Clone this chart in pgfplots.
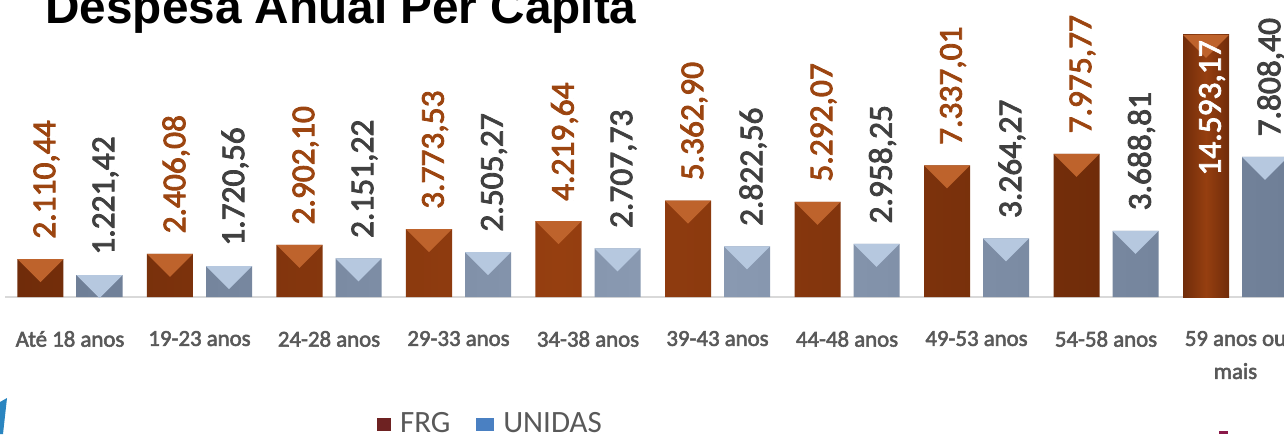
\documentclass[border=0pt]{standalone}
\usepackage{pgfplots}
\pgfplotsset{compat=1.18}
\usepackage{pgfplotstable}
\usepackage{fontspec}
\setmainfont{Carlito}[AutoFakeBold=2.5, BoldFeatures={FakeBold=1.3}]
\newfontfamily\titlefont{Liberation Sans}
\definecolor{frgmain}{HTML}{963F10}
\definecolor{frgdark}{HTML}{702C0A}
\definecolor{frgtop}{HTML}{BE632C}
\definecolor{unimain}{HTML}{8B9BB3}
\definecolor{unidark}{HTML}{6F7F97}
\definecolor{unitop}{HTML}{B6C8DF}
\definecolor{frglabel}{HTML}{9C4510}
\definecolor{unilabel}{HTML}{404040}
\definecolor{catgray}{HTML}{595959}
\definecolor{frgleg}{HTML}{6E2222}
\definecolor{unileg}{HTML}{4A80C2}
\definecolor{decoblue}{HTML}{2A85C0}
\definecolor{decored}{HTML}{8B1A4A}

\pgfplotstableread{
x y label
0 2110.44 2.110,44
1 2406.08 2.406,08
2 2902.10 2.902,10
3 3773.53 3.773,53
4 4219.64 4.219,64
5 5362.90 5.362,90
6 5292.07 5.292,07
7 7337.01 7.337,01
8 7975.77 7.975,77
}\frgdata
\pgfplotstableread{
x y label
9 14593.17 14.593,17
}\frglast
\pgfplotstableread{
x y label
0 1221.42 1.221,42
1 1720.56 1.720,56
2 2151.22 2.151,22
3 2505.27 2.505,27
4 2707.73 2.707,73
5 2822.56 2.822,56
6 2958.25 2.958,25
7 3264.27 3.264,27
8 3688.81 3.688,81
9 7808.40 7.808,40
}\unidata

% bevel triangle at the top of a bar (top edge at the data point)
\pgfdeclareplotmark{trileft}{%
  \pgfpathmoveto{\pgfpoint{-26.25pt}{0pt}}%
  \pgfpathlineto{\pgfpoint{-3.25pt}{0pt}}%
  \pgfpathlineto{\pgfpoint{-14.75pt}{-11.5pt}}%
  \pgfpathclose\pgfusepathqfill}
\pgfdeclareplotmark{triright}{%
  \pgfpathmoveto{\pgfpoint{3.25pt}{0pt}}%
  \pgfpathlineto{\pgfpoint{26.25pt}{0pt}}%
  \pgfpathlineto{\pgfpoint{14.75pt}{-11.5pt}}%
  \pgfpathclose\pgfusepathqfill}

\tikzset{
  lbl/.style={font=\bfseries\fontsize{16.7pt}{18pt}\selectfont, rotate=90, anchor=west, inner xsep=10pt, inner ysep=0pt},
}
\pgfplotsset{
  frgbar/.style={ybar, bar width=23pt, bar shift=-14.75pt, draw=none,
    left color=frgdark, right color=frgdark, middle color=frgmain},
  unibar/.style={ybar, bar width=23pt, bar shift=14.75pt, draw=none,
    left color=unidark, right color=unidark, middle color=unimain},
}

\begin{document}
\begin{tikzpicture}
\path[use as bounding box] (0,0) rectangle (642pt,217pt);
\clip (0,0) rectangle (642pt,217pt);
\fill[decoblue] (0,16pt) -- (3.5pt,18pt) -- (1.5pt,0) -- (0,0) -- cycle;
\fill[decored] (609.5pt,0) rectangle (614pt,1.5pt);
\node[anchor=base west, font=\titlefont\bfseries\fontsize{23.85pt}{28pt}\selectfont, inner sep=0pt] at (22.5pt,205pt) {Despesa Anual Per Capita};
\begin{axis}[
  at={(2.625pt,68.5pt)}, anchor=south west,
  scale only axis, width=647.5pt, height=143.65pt,
  xmin=-0.5, xmax=9.5, ymin=0, ymax=16000,
  axis x line=bottom, axis y line=none,
  x axis line style={-, draw=black!15, line width=0.8pt},
  xtick={0,...,9}, major tick length=0pt,
  xticklabels={Até 18 anos, 19-23 anos, 24-28 anos, 29-33 anos, 34-38 anos, 39-43 anos, 44-48 anos, 49-53 anos, 54-58 anos, {59 anos ou\\mais}},
  xticklabel style={font=\bfseries\fontsize{11.4pt}{16.5pt}\selectfont, text=catgray, align=center, anchor=north, yshift=-13.5pt},
  clip=false,
  legend columns=2,
  legend style={at={(0.2870,-0.442)}, anchor=west, draw=none, fill=none, inner sep=0pt,
    font=\fontsize{15.5pt}{18pt}\selectfont, text=catgray,
    /tikz/column sep=2.5pt,
    /tikz/every even column/.append style={column sep=11pt}},
]
\addlegendimage{legend image code/.code={\fill[frgleg] (0pt,-3.25pt) rectangle (6.5pt,2.75pt);}}
\addlegendentry{FRG}
\addlegendimage{legend image code/.code={\fill[unileg] (0pt,-3.25pt) rectangle (8.5pt,2.75pt);}}
\addlegendentry{UNIDAS}
\addplot[frgbar, forget plot] table[x=x, y=y] {\frgdata};
\addplot[frgbar, forget plot] table[x=x, y=y] {\frglast};
\addplot[unibar, forget plot] table[x=x, y=y] {\unidata};
\addplot[only marks, mark=trileft, color=frgtop, forget plot] table[x=x, y=y] {\frgdata};
\addplot[only marks, mark=trileft, color=frgtop, forget plot] table[x=x, y=y] {\frglast};
\addplot[only marks, mark=triright, color=unitop, forget plot] table[x=x, y=y] {\unidata};
\addplot[draw=none, forget plot, nodes near coords, point meta=explicit symbolic,
  every node near coord/.append style={xshift=-11.75pt, lbl, text=frglabel}]
  table[x=x, y=y, meta=label] {\frgdata};
\addplot[draw=none, forget plot, nodes near coords, point meta=explicit symbolic,
  every node near coord/.append style={xshift=-11.75pt, lbl, text=white, anchor=east, inner xsep=2.5pt}]
  table[x=x, y=y, meta=label] {\frglast};
\addplot[draw=none, forget plot, nodes near coords, point meta=explicit symbolic,
  every node near coord/.append style={xshift=17.75pt, lbl, text=unilabel}]
  table[x=x, y=y, meta=label] {\unidata};
\end{axis}
\end{tikzpicture}
\end{document}
